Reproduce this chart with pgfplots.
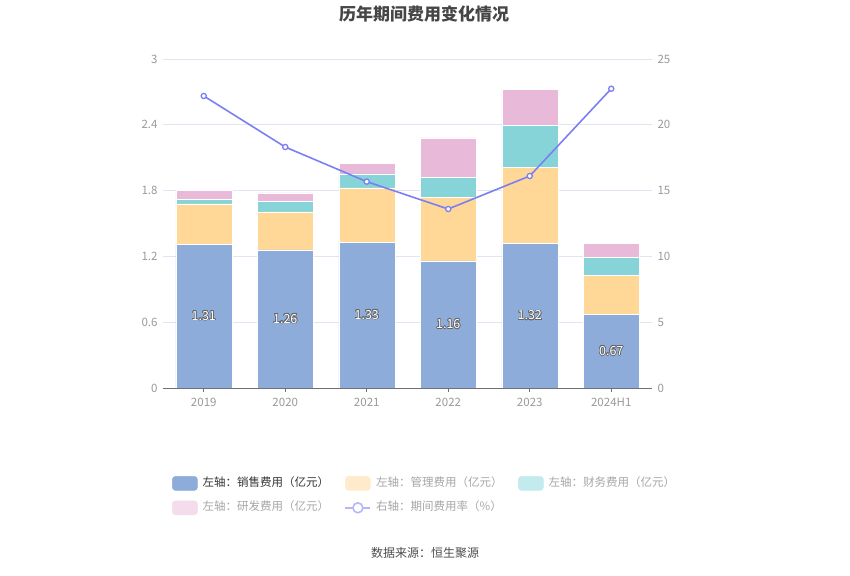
\documentclass[border=0pt]{standalone}
\usepackage{pgfplots}
\pgfplotsset{compat=1.18}
\usepackage{fontspec}
\setmainfont{Noto Sans CJK SC}
\usepackage{contour}
\contourlength{0.6pt}
\definecolor{cblue}{HTML}{8EACD9}
\definecolor{corange}{HTML}{FFD897}
\definecolor{cteal}{HTML}{86D4D8}
\definecolor{cpink}{HTML}{E8B9D9}
\definecolor{cline}{HTML}{7B7FF2}
\definecolor{lorange}{HTML}{FFEBCB}
\definecolor{lteal}{HTML}{C3EAEC}
\definecolor{lpink}{HTML}{F4DCEC}
\definecolor{lline}{HTML}{B5B8F8}
\definecolor{gridc}{HTML}{E0E6F1}
\definecolor{tickc}{HTML}{999999}
\definecolor{legc}{HTML}{A6A6A6}
\definecolor{axisc}{HTML}{6E7079}
\definecolor{titlec}{HTML}{464646}
\pgfplotstableread{
x sales admin fin rd
0 1.31 0.37 0.04 0.085
1 1.26 0.345 0.095 0.08
2 1.33 0.495 0.127 0.098
3 1.16 0.575 0.185 0.36
4 1.32 0.695 0.385 0.323
5 0.67 0.355 0.167 0.125
}\costs
\pgfplotstableread{
x rate
0 22.19
1 18.31
2 15.68
3 13.60
4 16.11
5 22.74
}\rate
\begin{document}
\begin{tikzpicture}
\path[use as bounding box] (0pt,0pt) rectangle (850pt,575pt);
\node[font=\fontsize{17}{20}\selectfont\bfseries, text=titlec] at (424pt,561pt) {历年期间费用变化情况};
\node[font=\fontsize{12}{14}\selectfont, text=black!70] at (425pt,22pt) {数据来源：恒生聚源};
\pgfplotsset{
  base/.style={
    at={(163pt,187pt)}, anchor=south west, scale only axis,
    width=489pt, height=329pt,
    xmin=-0.5, xmax=5.5,
    tick label style={font=\fontsize{11.5}{13}\selectfont, text=tickc},
    /pgf/number format/assume math mode=true,
  }
}
\begin{axis}[base,
  ybar stacked, bar width=56pt,
  ymin=0, ymax=3,
  ytick={0,0.6,1.2,1.8,2.4,3}, yticklabels={0,0.6,1.2,1.8,2.4,3},
  xtick={0,...,5}, xticklabels={2019,2020,2021,2022,2023,2024H1},
  axis x line*=bottom, axis y line*=left,
  x axis line style={axisc, line width=0.8pt, -},
  y axis line style={draw=none},
  ymajorgrids, grid style={gridc, line width=0.6pt},
  major y tick style={draw=none},
  major x tick style={axisc, line width=0.8pt},
  xtick align=outside, major tick length=4pt,
  xticklabel style={yshift=-3pt},
  yticklabel style={xshift=-2pt},
  legend columns=3,
  legend style={draw=none, fill=none, inner sep=0pt, row sep=10pt,
    at={(axis description cs:0.0184,-0.2675)}, anchor=north west,
    nodes={inner sep=0pt, anchor=west, text height=9pt, text depth=3pt,
      font=\fontsize{11.5}{13}\selectfont},
    /tikz/every odd column/.append style={column sep=5pt}},
]
\addplot[fill=cblue, draw=white, line width=0.5pt, forget plot] table[x=x,y=sales]{\costs};
\addplot[fill=corange, draw=white, line width=0.5pt, forget plot] table[x=x,y=admin]{\costs};
\addplot[fill=cteal, draw=white, line width=0.5pt, forget plot] table[x=x,y=fin]{\costs};
\addplot[fill=cpink, draw=white, line width=0.5pt, forget plot] table[x=x,y=rd]{\costs};
\addlegendimage{legend image code/.code={\fill[cblue, rounded corners=3pt] (0pt,-7pt) rectangle (25pt,7pt);}}
\addlegendentry{\makebox[142pt][l]{\textcolor{black!80}{左轴：销售费用（亿元）}}}
\addlegendimage{legend image code/.code={\fill[lorange, rounded corners=3pt] (0pt,-7pt) rectangle (25pt,7pt);}}
\addlegendentry{\makebox[142pt][l]{\textcolor{legc}{左轴：管理费用（亿元）}}}
\addlegendimage{legend image code/.code={\fill[lteal, rounded corners=3pt] (0pt,-7pt) rectangle (25pt,7pt);}}
\addlegendentry{\makebox[142pt][l]{\textcolor{legc}{左轴：财务费用（亿元）}}}
\addlegendimage{legend image code/.code={\fill[lpink, rounded corners=3pt] (0pt,-7pt) rectangle (25pt,7pt);}}
\addlegendentry{\makebox[142pt][l]{\textcolor{legc}{左轴：研发费用（亿元）}}}
\addlegendimage{legend image code/.code={\draw[lline, line width=1.6pt] (0pt,0pt) -- (25pt,0pt); \draw[lline, line width=1.6pt, fill=white] (12.5pt,0pt) circle (5pt);}}
\addlegendentry{\makebox[142pt][l]{\textcolor{legc}{右轴：期间费用率（\%）}}}
\end{axis}
\begin{axis}[base, axis lines=none, ymin=0, ymax=3]
\addplot[draw=none, mark=none, nodes near coords={\contour{black!60}{\pgfplotspointmeta}},
  point meta=explicit symbolic,
  nodes near coords style={anchor=center, text=white, font=\fontsize{12.5}{14}\selectfont}]
  coordinates {(0,0.655)[1.31] (1,0.63)[1.26] (2,0.665)[1.33] (3,0.58)[1.16] (4,0.66)[1.32] (5,0.335)[0.67]};
\end{axis}
\begin{axis}[base, ymin=0, ymax=25,
  ytick={0,5,10,15,20,25},
  axis y line*=right, axis x line=none,
  y axis line style={draw=none},
  major y tick style={draw=none},
  yticklabel style={xshift=2pt},
]
\addplot[cline, line width=1.6pt, mark=*, mark size=2.6pt,
  mark options={fill=white, draw=cline, line width=1.3pt}] table[x=x,y=rate]{\rate};
\end{axis}
\end{tikzpicture}
\end{document}
